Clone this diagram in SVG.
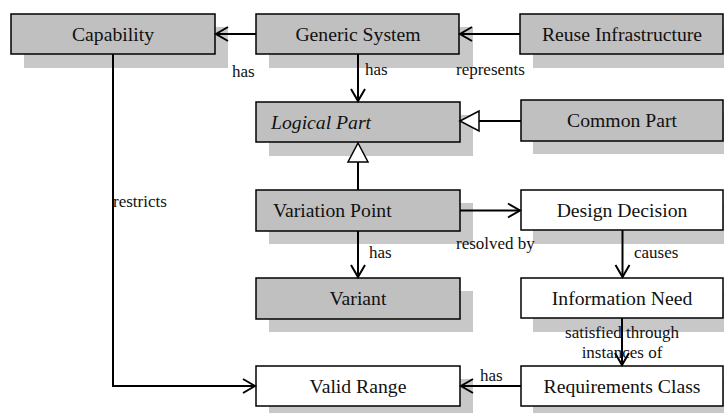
<svg xmlns="http://www.w3.org/2000/svg" width="724" height="413" viewBox="0 0 724 413">
<style>
.sh{fill:#c8c8c8;stroke:none}
.bx{stroke:#000;stroke-width:1.5}
.g{fill:#c0c0c0}
.w{fill:#fff}
text{font-family:'Liberation Serif','Times New Roman','DejaVu Serif',serif}
.t{font-size:19.7px;fill:#111}
.c{text-anchor:middle}
.i{font-style:italic}
.lb{font-size:17px;fill:#111}
.ln{fill:none;stroke:#000;stroke-width:2}
.tri{fill:#fff;stroke:#000;stroke-width:1.5}
</style>
<defs>
<marker id="open" viewBox="-14 -9 16 18" refX="0" refY="0" markerWidth="16" markerHeight="18" markerUnits="userSpaceOnUse" orient="auto">
<path d="M-12,-7 L0,0 L-12,7" fill="none" stroke="#000" stroke-width="2"/>
</marker>
</defs>
<rect width="724" height="413" fill="#fff"/>

<g id="capability"><rect class="sh" x="24" y="27" width="204" height="41"/><rect class="bx g" x="11" y="14" width="204" height="40"/><text class="t c" x="113" y="41">Capability</text></g>
<g id="generic-system"><rect class="sh" x="269" y="27" width="204" height="41"/><rect class="bx g" x="256" y="14" width="203" height="40"/><text class="t c" x="358" y="41">Generic System</text></g>
<g id="reuse-infrastructure"><rect class="sh" x="533" y="27" width="204" height="41"/><rect class="bx g" x="520" y="14" width="203" height="40"/><text class="t c" x="622" y="41">Reuse Infrastructure</text></g>
<g id="logical-part"><rect class="sh" x="269" y="115" width="204" height="41"/><rect class="bx g" x="256" y="102" width="204" height="40"/><text class="t i" x="271" y="129">Logical Part</text></g>
<g id="common-part"><rect class="sh" x="533" y="113" width="204" height="41"/><rect class="bx g" x="521" y="100" width="202" height="41"/><text class="t c" x="622" y="127">Common Part</text></g>
<g id="variation-point"><rect class="sh" x="269" y="203" width="204" height="41"/><rect class="bx g" x="256" y="190" width="204" height="41"/><text class="t" x="273" y="217">Variation Point</text></g>
<g id="design-decision"><rect class="sh" x="533" y="203" width="204" height="41"/><rect class="bx w" x="521" y="190" width="202" height="40"/><text class="t c" x="622" y="217">Design Decision</text></g>
<g id="variant"><rect class="sh" x="269" y="291" width="204" height="41"/><rect class="bx g" x="256" y="278" width="204" height="41"/><text class="t c" x="358" y="305">Variant</text></g>
<g id="information-need"><rect class="sh" x="533" y="291" width="204" height="41"/><rect class="bx w" x="521" y="278" width="202" height="40"/><text class="t c" x="622" y="305">Information Need</text></g>
<g id="valid-range"><rect class="sh" x="269" y="379" width="204" height="41"/><rect class="bx w" x="256" y="366" width="204" height="40"/><text class="t c" x="358" y="393">Valid Range</text></g>
<g id="requirements-class"><rect class="sh" x="533" y="379" width="204" height="41"/><rect class="bx w" x="521" y="366" width="202" height="40"/><text class="t c" x="622" y="393">Requirements Class</text></g>

<g id="connectors">
<line class="ln" x1="256" y1="34" x2="216" y2="34" marker-end="url(#open)"/>
<line class="ln" x1="520" y1="34" x2="460" y2="34" marker-end="url(#open)"/>
<line class="ln" x1="358" y1="54" x2="358" y2="101" marker-end="url(#open)"/>
<line class="ln" x1="521" y1="121" x2="479" y2="121"/>
<polygon class="tri" points="460,121 479,111 479,131"/>
<line class="ln" x1="358" y1="190" x2="358" y2="162"/>
<polygon class="tri" points="358,143 348,162 368,162"/>
<line class="ln" x1="460" y1="210.5" x2="520" y2="210.5" marker-end="url(#open)"/>
<line class="ln" x1="358" y1="231" x2="358" y2="277" marker-end="url(#open)"/>
<line class="ln" x1="622.5" y1="230" x2="622.5" y2="277" marker-end="url(#open)"/>
<line class="ln" x1="622" y1="318" x2="622" y2="365" marker-end="url(#open)"/>
<line class="ln" x1="521" y1="386" x2="461" y2="386" marker-end="url(#open)"/>
<polyline class="ln" points="113,54 113,386 255,386" marker-end="url(#open)"/>
<text class="lb" x="232" y="77">has</text>
<text class="lb" x="365" y="75">has</text>
<text class="lb" x="456" y="75">represents</text>
<text class="lb" x="113" y="207">restricts</text>
<text class="lb" x="456" y="249">resolved by</text>
<text class="lb" x="369" y="258">has</text>
<text class="lb" x="634" y="258">causes</text>
<text class="lb c" x="622" y="338">satisfied through</text>
<text class="lb c" x="622" y="358">instances of</text>
<text class="lb" x="480" y="381">has</text>
</g>
</svg>
